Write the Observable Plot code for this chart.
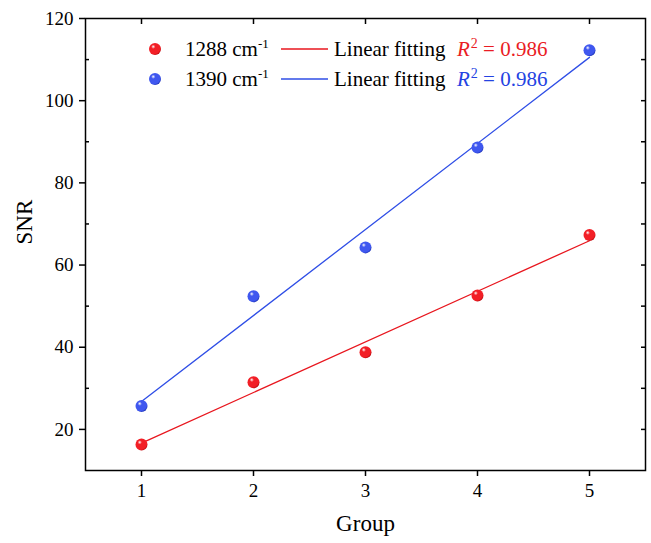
<!DOCTYPE html>
<html><head><meta charset="utf-8">
<script src="https://cdn.jsdelivr.net/npm/d3@7"></script>
<script src="https://cdn.jsdelivr.net/npm/@observablehq/plot@0.6"></script>
<style>body{margin:0;background:#fff}</style>
</head><body><div id="chart"></div>
<script>
// ---- data ----
const groups = [1, 2, 3, 4, 5];
const snr1288 = [16.3, 31.5, 38.8, 52.6, 67.3];
const snr1390 = [25.7, 52.4, 64.3, 88.6, 112.3];
const seriesNames = ["1288", "1390"];
const r2Values = ["0.986", "0.986"];
const xTicks = [1, 2, 3, 4, 5];
const yTicks = [20, 40, 60, 80, 100, 120];
const yMinorLeft = [30, 50, 70, 90, 110];
const yTicksRight = [20, 30, 40, 50, 60, 70, 80, 90, 100, 110];

// ---- styles ----
const FONT = "'Liberation Serif', 'Times New Roman', serif";
const pointColors = ["#f21f26", "#3f57ef"];
const pointDark = ["#b5080d", "#1a2fb0"];
const lineColors = ["#e8161e", "#2f4ee6"];
const textColors = ["#ea1c24", "#2443e2"];

const table = [];
groups.forEach((g, i) => {
  table.push({group: g, snr: snr1288[i], series: seriesNames[0]});
  table.push({group: g, snr: snr1390[i], series: seriesNames[1]});
});

const W = 651, H = 543, ML = 85, MR = 6, MT = 18, MB = 73;
const FW = W - ML - MR, FH = H - MT - MB;

function defsMark() {
  const defs = d3.create("svg:defs");
  seriesNames.forEach((s, i) => {
    const gr = defs.append("radialGradient").attr("id", "ball" + i)
      .attr("cx", "0.38").attr("cy", "0.35").attr("r", "0.7").attr("fx", "0.35").attr("fy", "0.3");
    gr.append("stop").attr("offset", "0").attr("stop-color", "#ffffff");
    gr.append("stop").attr("offset", "0.25").attr("stop-color", pointColors[i]);
    gr.append("stop").attr("offset", "0.8").attr("stop-color", pointColors[i]);
    gr.append("stop").attr("offset", "1").attr("stop-color", pointDark[i]);
  });
  return defs.node();
}

function legendMark(index, scales, values, dims) {
  const g = d3.create("svg:g").attr("font-family", FONT).attr("font-size", 21).attr("text-anchor", "start");
  seriesNames.forEach((s, i) => {
    const cy = 49 + 30 * i;
    const base = cy + 7;
    g.append("circle").attr("cx", 155).attr("cy", cy).attr("r", 6).attr("fill", `url(#ball${i})`);
    const t1 = g.append("text").attr("x", 185).attr("y", base).attr("fill", "black");
    t1.append("tspan").text(`${s} cm`);
    t1.append("tspan").attr("font-size", 13).attr("dy", -8).text("-1");
    g.append("line").attr("x1", 281).attr("x2", 328).attr("y1", cy).attr("y2", cy)
      .attr("stroke", lineColors[i]).attr("stroke-width", 1.3);
    g.append("text").attr("x", 334).attr("y", base).attr("fill", "black").text("Linear fitting");
    const t2 = g.append("text").attr("x", 457).attr("y", base).attr("fill", textColors[i]);
    t2.append("tspan").attr("font-style", "italic").text("R");
    t2.append("tspan").attr("font-size", 14).attr("dy", -8).attr("dx", 1).text("2");
    t2.append("tspan").attr("dy", 8).text(` = ${r2Values[i]}`);
  });
  return g.node();
}

const chart = Plot.plot({
  width: W, height: H,
  marginLeft: ML, marginRight: MR, marginTop: MT, marginBottom: MB,
  style: {fontFamily: FONT, background: "white", color: "black", overflow: "visible"},
  x: {domain: [0.5, 5.5]},
  y: {domain: [10, 120]},
  color: {domain: seriesNames, range: lineColors},
  marks: [
    defsMark,
    Plot.axisX(xTicks, {anchor: "bottom", tickSize: 6, tickPadding: 7, fontSize: 19, label: null, strokeWidth: 1.5}),
    Plot.axisY(yTicks, {anchor: "left", tickSize: 6, tickPadding: 6, fontSize: 19, label: null, strokeWidth: 1.5}),
    Plot.tickX(xTicks, {x: d => d, insetBottom: FH - 6, strokeWidth: 1.5}),
    Plot.tickY(yMinorLeft, {y: d => d, insetRight: FW - 4, strokeWidth: 1.5}),
    Plot.tickY(yTicksRight, {y: d => d, insetLeft: FW - 4, strokeWidth: 1.5}),
    Plot.frame({stroke: "black", strokeWidth: 1.5}),
    Plot.linearRegressionY(table, {x: "group", y: "snr", stroke: "series", ci: 0, strokeWidth: 1.3}),
    Plot.dot(table.filter(d => d.series === seriesNames[0]), {x: "group", y: "snr", r: 6, fill: "url(#ball0)", stroke: "none"}),
    Plot.dot(table.filter(d => d.series === seriesNames[1]), {x: "group", y: "snr", r: 6, fill: "url(#ball1)", stroke: "none"}),
    Plot.text(["Group"], {text: d => d, frameAnchor: "bottom", dy: 60, fontSize: 23}),
    Plot.text(["SNR"], {text: d => d, frameAnchor: "left", dx: -61, rotate: -90, fontSize: 23}),
    legendMark
  ]
});
document.getElementById("chart").appendChild(chart);
</script>
</body></html>
